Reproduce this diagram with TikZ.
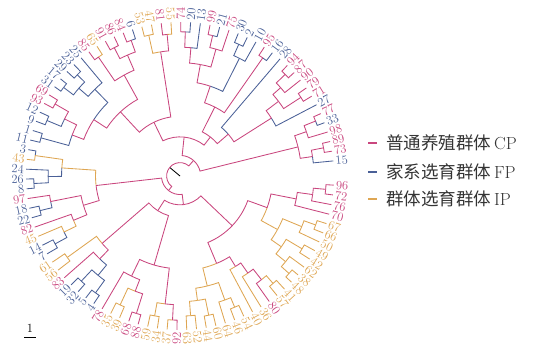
\documentclass[tikz,border=0pt]{standalone}
\usepackage{fontspec}
\newfontfamily\cjk{Noto Sans CJK SC}
\definecolor{colC}{HTML}{C9467E}
\definecolor{colB}{HTML}{4A6097}
\definecolor{colI}{HTML}{DEA653}
\def\rf{1.03}
\newcommand\TLeaf[3]{%
  \pgfmathsetmacro\tmpa{-3.4-#1*3.656}%
  \expandafter\xdef\csname TA@#1\endcsname{\tmpa}%
  \expandafter\xdef\csname TR@#1\endcsname{154}%
  \expandafter\xdef\csname TC@#1\endcsname{col#3}%
  \pgfmathtruncatemacro\tmpc{cos(\tmpa)>0?1:0}%
  \ifnum\tmpc=1
    \node[lbl,text=col#3,anchor=west,rotate=\tmpa] (lf#1) at (\tmpa:155.5pt) {#2};
  \else
    \pgfmathsetmacro\tmpb{\tmpa+180}%
    \node[lbl,text=col#3,anchor=east,rotate=\tmpb] (lf#1) at (\tmpa:155.5pt) {#2};
  \fi
}
\newcommand\TNode[5]{%
  \edef\tmpa{\csname TA@#2\endcsname}%
  \edef\tmpb{\csname TA@#3\endcsname}%
  \pgfmathsetmacro\tmpm{(\tmpa+\tmpb)/2}%
  \pgfmathsetmacro\tmpr{#4*\rf}%
  \edef\tmpra{\csname TR@#2\endcsname}%
  \edef\tmprb{\csname TR@#3\endcsname}%
  \edef\tmpca{\csname TC@#2\endcsname}%
  \edef\tmpcb{\csname TC@#3\endcsname}%
  \draw[br,color=\tmpca] (\tmpm:\tmpr pt) arc[start angle=\tmpm,end angle=\tmpa,radius=\tmpr pt] -- (\tmpa:\tmpra pt);
  \draw[br,color=\tmpcb] (\tmpm:\tmpr pt) arc[start angle=\tmpm,end angle=\tmpb,radius=\tmpr pt] -- (\tmpb:\tmprb pt);
  \expandafter\xdef\csname TA@#1\endcsname{\tmpm}%
  \expandafter\xdef\csname TR@#1\endcsname{\tmpr}%
  \expandafter\xdef\csname TC@#1\endcsname{col#5}%
}
\begin{document}
\begin{tikzpicture}[x=1pt,y=1pt,
  br/.style={line width=0.85pt},
  lbl/.style={inner sep=0.6pt,font=\fontsize{12.5}{13}\selectfont},
  leg/.style={anchor=west,inner sep=0pt,text=black!80,font=\fontsize{17.5}{18}\selectfont}]
\useasboundingbox (0,0) rectangle (537,346);
\begin{scope}[shift={(180,170)}]
\foreach \i/\l/\g in {0/96/C,1/72/C,2/76/C,3/70/C,4/67/I,5/66/I,6/50/I,7/49/I,8/42/I,9/62/I,
 10/38/I,11/48/I,12/41/I,13/57/I,14/80/C,15/36/I,16/40/I,17/54/I,18/46/I,19/64/I,
 20/60/I,21/44/I,22/52/I,23/63/I,24/92/C,25/37/I,26/34/I,27/59/I,28/88/C,29/68/C,
 30/39/I,31/35/I,32/78/C,33/4/B,34/5/B,35/32/B,36/19/B,37/83/C,38/56/I,39/61/I,
 40/7/B,41/14/B,42/45/I,43/82/C,44/22/B,45/18/B,46/97/C,47/8/B,48/26/B,49/24/B,
 50/43/I,51/3/B,52/11/B,53/1/B,54/9/B,55/12/B,56/93/C,57/69/C,58/31/B,59/17/B,
 60/29/B,61/23/B,62/25/B,63/85/C,64/65/I,65/91/C,66/86/C,67/84/C,68/6/B,69/53/I,
 70/47/I,71/81/C,72/55/I,73/74/C,74/20/B,75/13/B,76/99/C,77/21/B,78/75/C,79/30/B,
 80/2/B,81/10/B,82/95/C,83/16/B,84/28/B,85/94/C,86/87/C,87/90/C,88/79/C,89/71/C,
 90/27/B,91/77/C,92/33/B,93/98/C,94/89/C,95/73/C,96/15/B}{\TLeaf{\i}{\l}{\g}}
\TNode{a1}{0}{1}{142}{C}
\TNode{a2}{a1}{2}{130}{C}
\TNode{a3}{a2}{3}{115}{C}
\TNode{b1}{4}{5}{140}{I}
\TNode{b2}{b1}{6}{128}{I}
\TNode{b3}{7}{8}{138}{I}
\TNode{b4}{10}{11}{142}{I}
\TNode{b5}{9}{b4}{132}{I}
\TNode{b6}{b3}{b5}{120}{I}
\TNode{b7}{b2}{b6}{108}{I}
\TNode{b8}{a3}{b7}{90}{C}
\TNode{c0}{12}{13}{138}{I}
\TNode{c1}{c0}{14}{128}{C}
\TNode{c2}{c1}{15}{115}{C}
\TNode{c3}{c2}{16}{103}{C}
\TNode{d1}{17}{18}{138}{I}
\TNode{d2}{d1}{19}{128}{I}
\TNode{o1}{20}{21}{138}{I}
\TNode{o2}{22}{23}{136}{I}
\TNode{o3}{o1}{o2}{122}{I}
\TNode{d3}{d2}{o3}{110}{I}
\TNode{e}{c3}{d3}{92}{C}
\TNode{f}{b8}{e}{70}{C}
\TNode{p1}{24}{25}{140}{C}
\TNode{p2}{26}{27}{138}{I}
\TNode{p3}{p1}{p2}{125}{C}
\TNode{p4}{28}{29}{140}{C}
\TNode{p5}{30}{31}{138}{I}
\TNode{p6}{p4}{p5}{120}{C}
\TNode{p7}{p6}{32}{108}{C}
\TNode{p8}{p3}{p7}{90}{C}
\TNode{q1}{33}{34}{140}{B}
\TNode{q2}{35}{36}{140}{B}
\TNode{q3}{q1}{q2}{125}{B}
\TNode{q4}{q3}{37}{112}{C}
\TNode{q5}{38}{39}{135}{I}
\TNode{q6}{q4}{q5}{100}{C}
\TNode{B1}{p8}{q6}{40}{C}
\TNode{Bot}{f}{B1}{28}{C}
\TNode{r1}{40}{41}{138}{B}
\TNode{r2}{r1}{42}{125}{I}
\TNode{r4}{r2}{43}{112}{C}
\TNode{s1}{44}{45}{140}{B}
\TNode{s2}{s1}{46}{128}{C}
\TNode{r5}{r4}{s2}{98}{C}
\TNode{t1}{47}{48}{142}{B}
\TNode{t2}{t1}{49}{128}{B}
\TNode{t3}{50}{51}{142}{I}
\TNode{t4}{t2}{t3}{115}{I}
\TNode{r6}{r5}{t4}{82}{C}
\TNode{R1}{Bot}{r6}{18}{C}
\TNode{u1}{52}{53}{140}{B}
\TNode{u2}{54}{55}{140}{B}
\TNode{u3}{56}{57}{140}{C}
\TNode{u4}{u2}{u3}{125}{C}
\TNode{u5}{u1}{u4}{112}{C}
\TNode{v1}{58}{59}{142}{B}
\TNode{v2}{60}{61}{140}{B}
\TNode{v3}{v1}{v2}{130}{B}
\TNode{v4}{v3}{62}{118}{B}
\TNode{w1}{u5}{v4}{100}{C}
\TNode{x1}{63}{64}{140}{C}
\TNode{x2}{65}{66}{140}{C}
\TNode{x3}{67}{68}{140}{C}
\TNode{x4}{x2}{x3}{128}{C}
\TNode{x5}{x1}{x4}{112}{C}
\TNode{w2}{w1}{x5}{85}{C}
\TNode{y1}{69}{70}{140}{I}
\TNode{y2}{71}{72}{138}{C}
\TNode{y3}{y1}{y2}{122}{C}
\TNode{w3}{w2}{y3}{58}{C}
\TNode{z1}{73}{74}{140}{C}
\TNode{z2}{z1}{75}{125}{C}
\TNode{z3}{76}{77}{140}{C}
\TNode{z4}{z3}{78}{128}{C}
\TNode{z5}{z2}{z4}{110}{C}
\TNode{zz1}{79}{80}{140}{B}
\TNode{zz2}{zz1}{81}{128}{B}
\TNode{z6}{z5}{zz2}{92}{C}
\TNode{m1}{82}{83}{140}{C}
\TNode{z7}{z6}{m1}{75}{C}
\TNode{n1}{85}{86}{142}{C}
\TNode{n2}{n1}{87}{130}{C}
\TNode{n3}{88}{89}{140}{C}
\TNode{n4}{n2}{n3}{120}{C}
\TNode{n5}{n4}{90}{105}{C}
\TNode{n6}{84}{n5}{62}{C}
\TNode{z8}{z7}{n6}{48}{C}
\TNode{U1}{w3}{z8}{38}{C}
\TNode{k1}{91}{92}{142}{C}
\TNode{k2}{k1}{93}{130}{C}
\TNode{k3}{94}{95}{142}{C}
\TNode{k4}{k3}{96}{130}{C}
\TNode{k5}{k2}{k4}{118}{C}
\TNode{R2}{U1}{k5}{20}{C}
\TNode{root}{R1}{R2}{13}{C}
\coordinate (ctr) at (0,0);
\coordinate (rootpt) at (\csname TA@root\endcsname:13pt);
\draw[br,black] (ctr) -- (rootpt);
\end{scope}
% legend
\foreach \yy/\cc/\tt/\ab/\nm in {203/colC/普通养殖群体/CP/lg1,174/colB/家系选育群体/FP/lg2,147/colI/群体选育群体/IP/lg3}{
  \draw[color=\cc,line width=1.6pt] (368,\yy) -- (377,\yy);
  \node[leg] (\nm) at (386,\yy) {{\cjk \tt}\,\ab};
}
% scale bar
\node[font=\fontsize{12.5}{13}\selectfont,inner sep=0pt] (sc) at (30,18) {1};
\draw[line width=0.8pt] (24,9) -- (36,9);
\end{tikzpicture}
\end{document}
